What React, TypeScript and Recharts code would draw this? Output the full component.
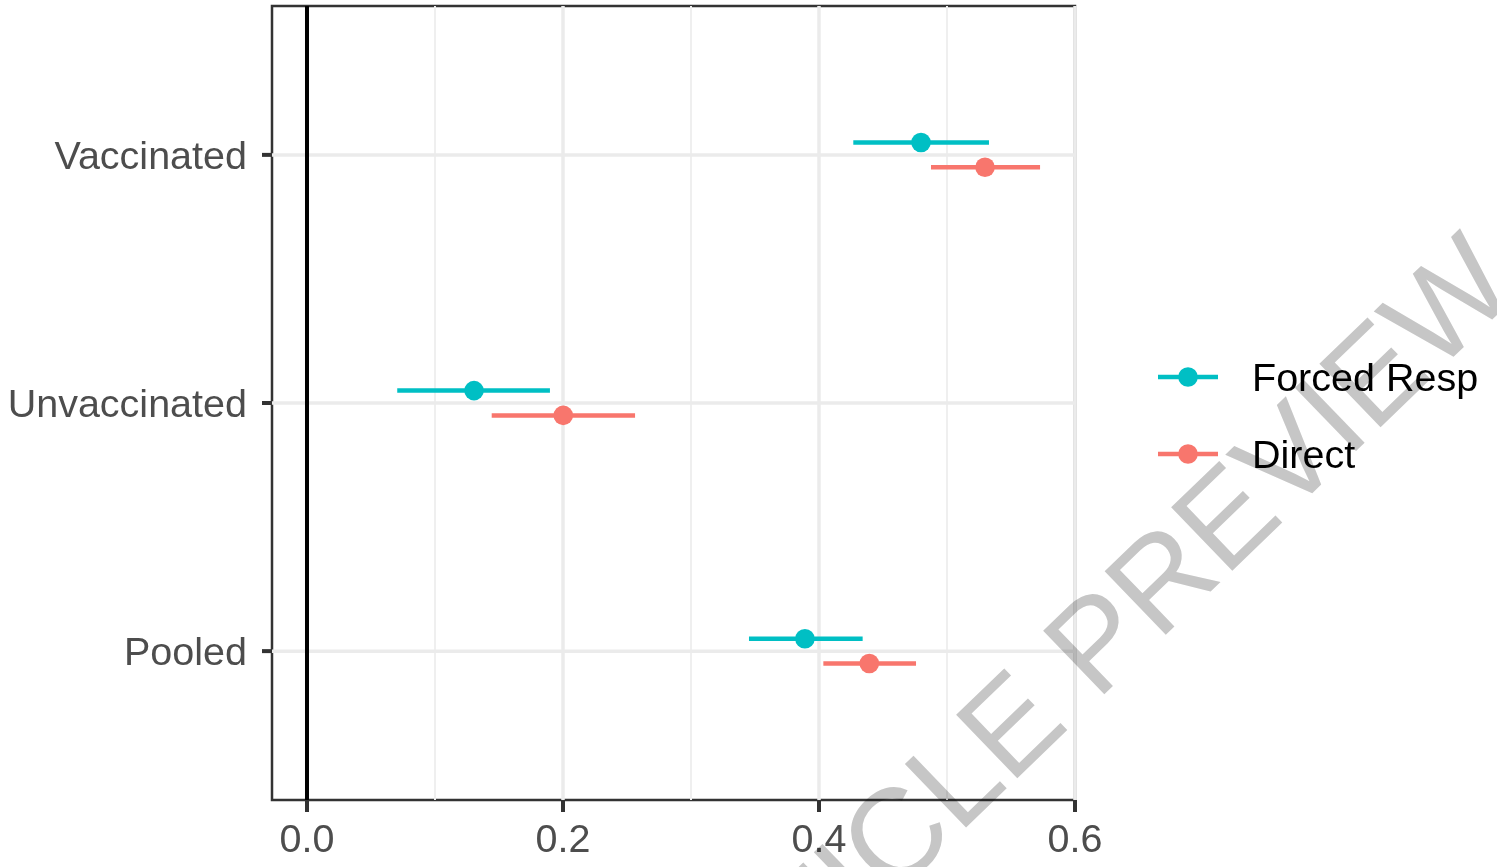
import React from "react";
import {
  ComposedChart,
  Scatter,
  XAxis,
  YAxis,
  ErrorBar,
  ReferenceLine,
  ReferenceArea,
  Legend,
} from "recharts";

const categories = ["Pooled", "Unvaccinated", "Vaccinated"];
const seriesNames = ["Forced Resp", "Direct"];
const seriesColors = ["#00BFC4", "#F8766D"];

const forcedEst = [0.389, 0.1305, 0.4797];
const forcedLow = [0.3453, 0.0705, 0.4268];
const forcedHigh = [0.4341, 0.1898, 0.5328];

const directEst = [0.4393, 0.2002, 0.5297];
const directLow = [0.4034, 0.1443, 0.4875];
const directHigh = [0.4758, 0.2563, 0.5727];

const xTicks = [0, 0.2, 0.4, 0.6];
const xMinorTicks = [0.1, 0.3, 0.5];
const yTicks = [1, 2, 3];
const dodge = 0.05;

const X_MIN = -0.02734;
const X_MAX = 0.6;
const Y_MIN = 0.4;
const Y_MAX = 3.6;

const FONT = "'Liberation Sans', Arial, Helvetica, sans-serif";

const buildRows = (est: number[], lo: number[], hi: number[], offset: number) =>
  categories.map((c, i) => ({
    category: c,
    x: est[i],
    y: i + 1 + offset,
    err: [est[i] - lo[i], hi[i] - est[i]],
  }));

const forcedRows = buildRows(forcedEst, forcedLow, forcedHigh, dodge);
const directRows = buildRows(directEst, directLow, directHigh, -dodge);

const makeDot = (color: string) => (props: any) => (
  <circle cx={props.cx} cy={props.cy} r={9.8} fill={color} />
);

const renderLegend = () => (
  <svg width={347} height={170} style={{ overflow: "visible" }}>
    {seriesNames.map((n, i) => {
      const cy = 27 + i * 77;
      return (
        <g key={n}>
          <line x1={8} x2={68} y1={cy} y2={cy} stroke={seriesColors[i]} strokeWidth={4.5} />
          <circle cx={38} cy={cy} r={9.8} fill={seriesColors[i]} />
          <text x={102} y={cy + 14} fontSize={39.5} fill="#000" fontFamily={FONT}>
            {n}
          </text>
        </g>
      );
    })}
  </svg>
);

export default function App() {
  return (
    <div
      style={{
        position: "absolute",
        left: 0,
        top: 0,
        width: 1497,
        height: 867,
        background: "#fff",
        fontFamily: FONT,
        overflow: "hidden",
      }}
    >
      <ComposedChart
        width={1497}
        height={867}
        margin={{ top: 6, right: 422, bottom: 0, left: 0 }}
      >
        <XAxis
          type="number"
          dataKey="x"
          domain={[X_MIN, X_MAX]}
          allowDataOverflow
          ticks={xTicks}
          interval={0}
          tickFormatter={(v: number) => v.toFixed(1)}
          axisLine={false}
          tickLine={{ stroke: "#333333", strokeWidth: 4 }}
          tickSize={12}
          tickMargin={12}
          height={67}
          tick={{ fill: "#4D4D4D", fontSize: 39.5, fontFamily: FONT }}
        />
        <YAxis
          type="number"
          dataKey="y"
          domain={[Y_MIN, Y_MAX]}
          allowDataOverflow
          ticks={yTicks}
          interval={0}
          tickFormatter={(v: number) => categories[Math.round(v) - 1]}
          axisLine={false}
          tickLine={{ stroke: "#333333", strokeWidth: 4 }}
          tickSize={10}
          tickMargin={15}
          width={272}
          tick={{ fill: "#4D4D4D", fontSize: 39.5, fontFamily: FONT }}
        />
        {xMinorTicks.map((t) => (
          <ReferenceLine key={`mx${t}`} x={t} stroke="#EFEFEF" strokeWidth={2} />
        ))}
        {xTicks.map((t) => (
          <ReferenceLine key={`x${t}`} x={t} stroke="#EBEBEB" strokeWidth={3.5} />
        ))}
        {yTicks.map((t) => (
          <ReferenceLine key={`y${t}`} y={t} stroke="#EBEBEB" strokeWidth={3.5} />
        ))}
        <ReferenceLine x={0} stroke="#000000" strokeWidth={4} />
        <ReferenceArea
          x1={X_MIN}
          x2={X_MAX}
          y1={Y_MIN}
          y2={Y_MAX}
          fill="none"
          fillOpacity={0}
          stroke="#333333"
          strokeWidth={2.5}
        />
        <Scatter
          name={seriesNames[0]}
          data={forcedRows}
          fill={seriesColors[0]}
          shape={makeDot(seriesColors[0])}
          isAnimationActive={false}
        >
          <ErrorBar
            dataKey="err"
            direction="x"
            width={0}
            stroke={seriesColors[0]}
            strokeWidth={4.5}
            isAnimationActive={false}
          />
        </Scatter>
        <Scatter
          name={seriesNames[1]}
          data={directRows}
          fill={seriesColors[1]}
          shape={makeDot(seriesColors[1])}
          isAnimationActive={false}
        >
          <ErrorBar
            dataKey="err"
            direction="x"
            width={0}
            stroke={seriesColors[1]}
            strokeWidth={4.5}
            isAnimationActive={false}
          />
        </Scatter>
        <Legend
          layout="vertical"
          align="center"
          verticalAlign="middle"
          content={renderLegend}
          wrapperStyle={{ left: 1150, top: 350, width: 347, height: 170 }}
        />
      </ComposedChart>
      <svg
        width={1497}
        height={867}
        style={{
          position: "absolute",
          left: 0,
          top: 0,
          pointerEvents: "none",
          mixBlendMode: "multiply",
        }}
      >
        <text
          x={684}
          y={1100}
          fontSize={128}
          fontFamily={FONT}
          fill="#C6C6C6"
          transform="rotate(-44 684 1100)"
        >
          ARTICLE PREVIEW
        </text>
      </svg>
    </div>
  );
}
